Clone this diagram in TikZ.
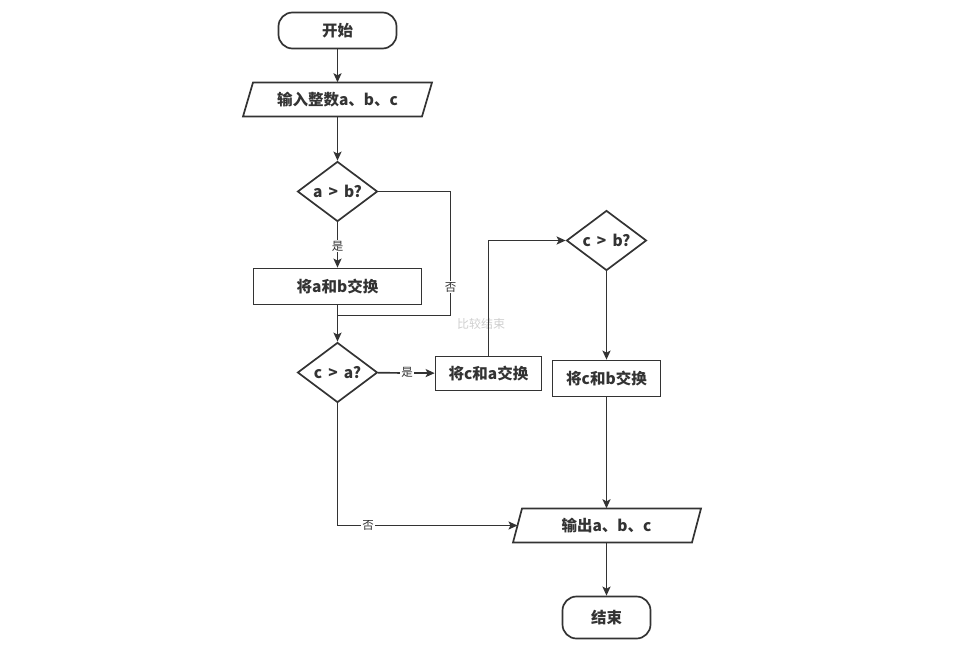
\documentclass[tikz,border=0pt]{standalone}
\usepackage{fontspec}
\setmainfont{Noto Sans CJK SC}
\usetikzlibrary{arrows.meta,shapes.geometric}
\definecolor{ln}{HTML}{333333}
\definecolor{wm}{HTML}{CFCFCF}
\begin{document}
\begin{tikzpicture}[x=1pt,y=-1pt,
  base/.style={draw=ln, line width=1.7pt, text=ln, font=\bfseries\fontsize{15.5}{18}\selectfont, inner sep=0pt},
  term/.style={base, rectangle, rounded corners=14pt},
  proc/.style={base, rectangle},
  dec/.style={base, diamond, aspect=1.33, minimum width=80pt, minimum height=60pt},
  iotext/.style={rectangle, draw=none, text=ln, font=\bfseries\fontsize{15.5}{18}\selectfont, inner sep=0pt, minimum height=34pt, minimum width=160pt},
  ioshape/.style={draw=ln, line width=1.7pt, line join=miter},
  line/.style={draw=ln, line width=1.7pt},
  arr/.style={line, -{Stealth[length=9pt,width=8pt,inset=2pt]}},
  lbl/.style={fill=white, text=ln, font=\fontsize{11.5}{13}\selectfont, inner sep=1pt},
  wmark/.style={text=wm, font=\fontsize{12}{14}\selectfont, inner sep=0pt}
]
\useasboundingbox (0,0) rectangle (964,645);

% nodes
\node[term, minimum width=118pt, minimum height=36pt] (start) at (337.5,30.5) {开始};
\node[iotext] (inp) at (337.5,99.5) {输入整数a、b、c};
\draw[ioshape] (243,116.5) -- (253,82.5) -- (432,82.5) -- (422,116.5) -- cycle;
\node[dec] (ab) at (337.5,191.5) {a \,>\, b?};
\node[proc, minimum width=168pt, minimum height=36pt] (swab) at (337.5,286.5) {将a和b交换};
\node[dec] (ca) at (337.5,372.5) {c \,>\, a?};
\node[proc, minimum width=106pt, minimum height=34pt] (swca) at (488.5,373.5) {将c和a交换};
\node[dec] (cb) at (606.5,240.5) {c \,>\, b?};
\node[proc, minimum width=108pt, minimum height=36pt] (swcb) at (606.5,378.5) {将c和b交换};
\node[iotext] (out) at (606.5,525.5) {输出a、b、c};
\draw[ioshape] (513,542.5) -- (522,508.5) -- (701,508.5) -- (692,542.5) -- cycle;
\node[term, minimum width=88pt, minimum height=42pt] (end) at (606.5,617.5) {结束};

% helper coordinates
\coordinate (n2) at (450.5,315.5);
\coordinate (merge) at (337.5,315.5);
\coordinate (outL) at (517.5,525.5);

% watermark label (behind the line)
\node[wmark] (wm) at (481,324) {比较结束};

% connectors
\draw[arr] (start) -- (inp);
\draw[arr] (inp) -- (ab);
\draw[arr] (ab) -- (swab);
\draw[line] (ab.east) -| (n2) -- (merge);
\draw[arr] (swab) -- (ca);
\draw[arr] (ca) -- (swca);
\draw[arr] (swca.north) |- (cb.west);
\draw[arr] (cb) -- (swcb);
\draw[arr] (swcb) -- (out);
\draw[arr] (ca.south) |- (outL);
\draw[arr] (out) -- (end);

% edge labels
\node[lbl] (l1) at (337.5,246) {是};
\node[lbl] (l2) at (450.5,287) {否};
\node[lbl] (l3) at (407,372.5) {是};
\node[lbl] (l4) at (368,525.5) {否};
\end{tikzpicture}
\end{document}
